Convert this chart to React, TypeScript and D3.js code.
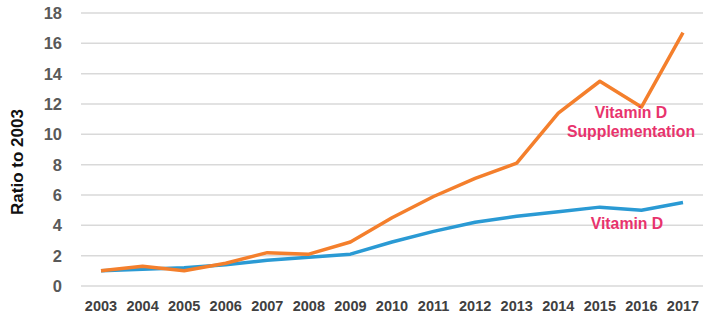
import React from "react";
import * as d3 from "d3";

const years = ["2003","2004","2005","2006","2007","2008","2009","2010","2011","2012","2013","2014","2015","2016","2017"];
const supplementation = [1.0, 1.3, 1.0, 1.5, 2.2, 2.1, 2.9, 4.5, 5.9, 7.1, 8.1, 11.4, 13.5, 11.8, 16.7];
const vitaminD = [1.0, 1.1, 1.2, 1.4, 1.7, 1.9, 2.1, 2.9, 3.6, 4.2, 4.6, 4.9, 5.2, 5.0, 5.5];
const yTicks = [0, 2, 4, 6, 8, 10, 12, 14, 16, 18];

const W = 710, H = 328;

export default function App() {
  const x = d3.scalePoint<string>().domain(years).range([101, 683]);
  const y = d3.scaleLinear().domain([0, 18]).range([286, 13]);
  const line = d3.line<number>().x((_, i) => x(years[i]) as number).y(d => y(d));
  const font = "'Liberation Sans', Arial, sans-serif";
  return (
    <svg width={W} height={H} style={{ position: "absolute", left: 0, top: 0, background: "#fff" }}>
      {yTicks.map(t => (
        <g key={t}>
          <line x1={81} x2={703} y1={y(t)} y2={y(t)} stroke="#d9d9d9" strokeWidth={1.5} />
          <text x={62} y={y(t)} dy="0.36em" textAnchor="end" fontFamily={font} fontWeight="bold" fontSize={16.5} fill="#595959">{t}</text>
        </g>
      ))}
      {years.map(yr => (
        <text key={yr} x={x(yr)} y={311} textAnchor="middle" fontFamily={font} fontWeight="bold" fontSize={14.5} fill="#404040">{yr}</text>
      ))}
      <text transform="translate(23,162) rotate(-90)" textAnchor="middle" fontFamily={font} fontWeight="bold" fontSize={17} fill="#111">Ratio to 2003</text>
      <path d={line(vitaminD) || ""} fill="none" stroke="#2A9AD4" strokeWidth={3.5} strokeLinejoin="round" />
      <path d={line(supplementation) || ""} fill="none" stroke="#F47F2C" strokeWidth={3.5} strokeLinejoin="round" />
      <text x={631} y={118} textAnchor="middle" fontFamily={font} fontWeight="bold" fontSize={15.8} fill="#E8336D">Vitamin D</text>
      <text x={631} y={137} textAnchor="middle" fontFamily={font} fontWeight="bold" fontSize={15.8} fill="#E8336D">Supplementation</text>
      <text x={627} y={229} textAnchor="middle" fontFamily={font} fontWeight="bold" fontSize={15.8} fill="#E8336D">Vitamin D</text>
    </svg>
  );
}
